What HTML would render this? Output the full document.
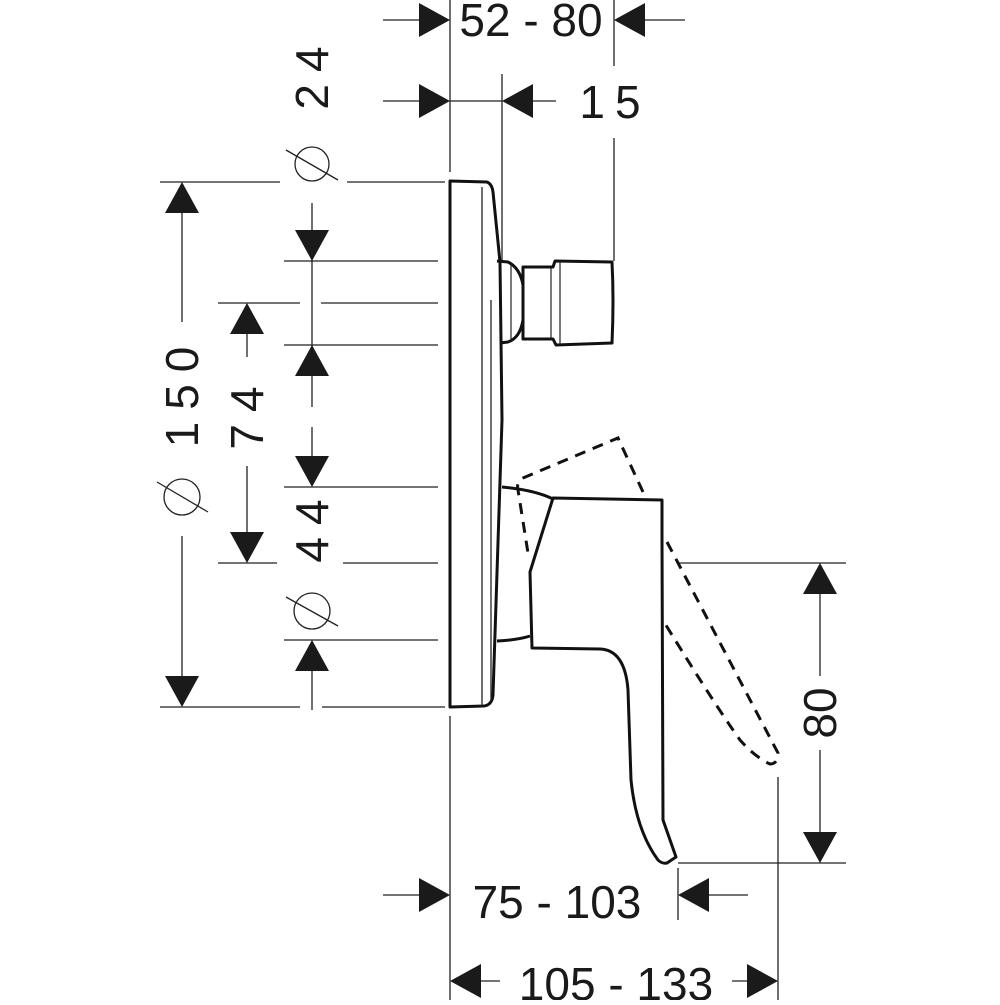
<!DOCTYPE html>
<html><head><meta charset="utf-8"><style>html,body{margin:0;padding:0;background:#fff}</style></head>
<body>
<svg width="1000" height="1000" viewBox="0 0 1000 1000" xmlns="http://www.w3.org/2000/svg" font-family="Liberation Sans, sans-serif">
<rect width="1000" height="1000" fill="#fff"/>
<g stroke="#222" stroke-width="1.3" fill="none">
<!-- extension lines -->
<line x1="450" y1="0" x2="450" y2="172"/>
<line x1="614" y1="0" x2="614" y2="66"/>
<line x1="502" y1="74" x2="502" y2="262"/>
<line x1="614" y1="138" x2="614" y2="261"/>
<line x1="450" y1="716" x2="450" y2="1000"/>
<line x1="778" y1="777" x2="778" y2="1000"/>
<line x1="678" y1="868" x2="678" y2="920"/>
<!-- dim lines top -->
<line x1="383" y1="20" x2="425" y2="20"/>
<line x1="640" y1="20" x2="685" y2="20"/>
<line x1="383" y1="101" x2="425" y2="101"/>
<line x1="450" y1="101" x2="502" y2="101"/>
<line x1="525" y1="101" x2="556" y2="101"/>
<!-- left horizontals -->
<line x1="160" y1="182" x2="280" y2="182"/>
<line x1="347" y1="182" x2="445" y2="182"/>
<line x1="160" y1="707" x2="300" y2="707"/>
<line x1="322" y1="707" x2="445" y2="707"/>
<line x1="284" y1="261" x2="438" y2="261"/>
<line x1="218" y1="303" x2="300" y2="303"/>
<line x1="321" y1="303" x2="438" y2="303"/>
<line x1="284" y1="345" x2="438" y2="345"/>
<line x1="284" y1="487" x2="438" y2="487"/>
<line x1="218" y1="563" x2="277" y2="563"/>
<line x1="343" y1="563" x2="438" y2="563"/>
<line x1="284" y1="640" x2="438" y2="640"/>
<!-- left verticals -->
<line x1="182" y1="200" x2="182" y2="322"/>
<line x1="182" y1="536" x2="182" y2="690"/>
<line x1="312" y1="203" x2="312" y2="240"/>
<line x1="312" y1="240" x2="312" y2="407"/>
<line x1="312" y1="427" x2="312" y2="470"/>
<line x1="312" y1="660" x2="312" y2="710"/>
<line x1="247" y1="320" x2="247" y2="357"/>
<line x1="247" y1="466" x2="247" y2="545"/>
<!-- right 80 -->
<line x1="677" y1="563" x2="846" y2="563"/>
<line x1="678" y1="863" x2="846" y2="863"/>
<line x1="820" y1="580" x2="820" y2="676"/>
<line x1="820" y1="750" x2="820" y2="845"/>
<!-- bottom dims -->
<line x1="383" y1="895" x2="425" y2="895"/>
<line x1="700" y1="895" x2="748" y2="895"/>
<line x1="470" y1="981" x2="500" y2="981"/>
<line x1="732" y1="981" x2="760" y2="981"/>
<!-- diameter symbols -->
<circle cx="312" cy="164" r="17"/><line x1="286" y1="150" x2="338" y2="180"/>
<circle cx="182" cy="497" r="18"/><line x1="157" y1="482" x2="208" y2="512"/>
<circle cx="312" cy="611" r="18"/><line x1="286" y1="597" x2="338" y2="626"/>
</g>
<!-- arrowheads -->
<g fill="#1a1a1a">
<polygon points="450,20 419,3 419,37"/>
<polygon points="614,20 645,3 645,37"/>
<polygon points="450,101 419,84 419,118"/>
<polygon points="502,101 533,84 533,118"/>
<polygon points="182,182 165,213 199,213"/>
<polygon points="182,707 165,676 199,676"/>
<polygon points="312,261 295,230 329,230"/>
<polygon points="312,345 295,376 329,376"/>
<polygon points="247,303 230,334 264,334"/>
<polygon points="247,563 230,532 264,532"/>
<polygon points="312,487 295,456 329,456"/>
<polygon points="312,640 295,671 329,671"/>
<polygon points="820,563 803,594 837,594"/>
<polygon points="820,863 803,832 837,832"/>
<polygon points="450,895 419,878 419,912"/>
<polygon points="678,895 709,878 709,912"/>
<polygon points="450,981 481,964 481,998"/>
<polygon points="778,981 747,964 747,998"/>
</g>
<!-- text -->
<g fill="#1a1a1a" font-size="46">
<text x="531" y="36" text-anchor="middle">52 - 80</text>
<text x="615" y="118" text-anchor="middle" letter-spacing="10">15</text>
<text x="557" y="918" text-anchor="middle">75 - 103</text>
<text x="616" y="1000" text-anchor="middle">105 - 133</text>
<text transform="translate(312,72) rotate(-90)" text-anchor="middle" dominant-baseline="central" letter-spacing="12">24</text>
<text transform="translate(182,391) rotate(-90)" text-anchor="middle" dominant-baseline="central" letter-spacing="12">150</text>
<text transform="translate(247,412) rotate(-90)" text-anchor="middle" dominant-baseline="central" letter-spacing="12">74</text>
<text transform="translate(312,525) rotate(-90)" text-anchor="middle" dominant-baseline="central" letter-spacing="12">44</text>
<text transform="translate(820,713) rotate(-90)" text-anchor="middle" dominant-baseline="central">80</text>
</g>
<!-- wall plate -->
<g stroke="#111" stroke-width="3" fill="none" stroke-linejoin="round">
<path d="M450,707 L450,181 L487,182 Q492,184 493,192 L500,262 L502,420 L493,695 Q492,705 484,706 L450,707 Z"/>
</g>
<g stroke="#222" stroke-width="1.3" fill="none">
<line x1="482" y1="187" x2="482" y2="705"/>
<line x1="491" y1="300" x2="491" y2="700"/>
</g>
<!-- knob -->
<g stroke="#111" stroke-width="3" fill="none" stroke-linejoin="round">
<path d="M497,261 L508,262 Q520,268 523,285 L523,320 Q520,338 508,342 L500,343"/>
<path d="M523,267 L553,267 L555,261 L612,262 Q614,300 612,343 L556,345 L553,339 L523,339 Z"/>
</g>
<g stroke="#222" stroke-width="1.2" fill="none">
<line x1="511" y1="264" x2="511" y2="340"/>
<line x1="551" y1="268" x2="551" y2="338"/>
<line x1="560" y1="262" x2="560" y2="344"/>
</g>
<!-- handle -->
<g stroke="#111" stroke-width="3" fill="none" stroke-linejoin="round">
<path d="M502,487 Q535,490 553,499"/>
<path d="M497,641 Q518,640 530,636"/>
<path d="M553,498 L662,500 L662,540 L663,820 L676,857 L667,863 Q662,864 658,860 Q636,830 631,780 L628,690 Q625,650 600,649 L532,648 L530,572 Z"/>
</g>
<!-- dashed ghost -->
<g stroke="#111" stroke-width="3" fill="none" stroke-dasharray="11,8">
<path d="M643,492 L618,438 L523,478 Q516,482 518,490 L528,553"/>
<path d="M667,542 L778,753 Q778,764 770,764 Q755,757 740,740 Q715,705 664,622"/>
</g>
</svg>
</body></html>
